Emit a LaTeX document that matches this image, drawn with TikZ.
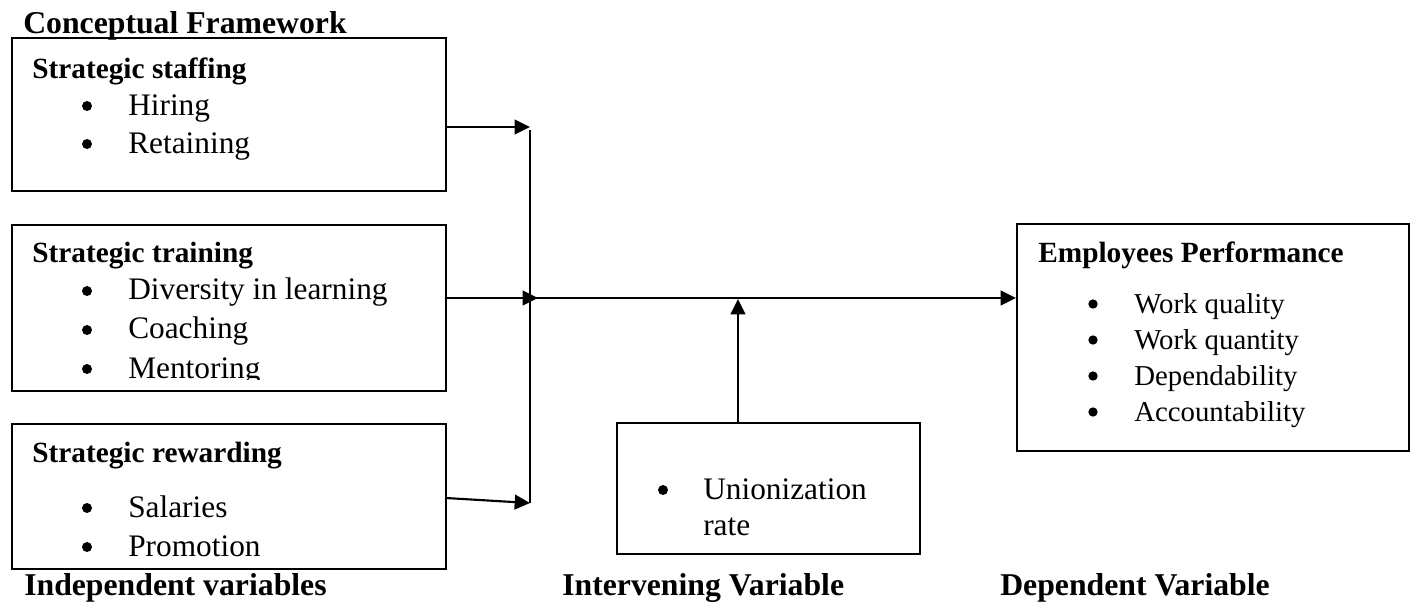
\documentclass[tikz,border=0pt]{standalone}
\usepackage{fontspec}
\setmainfont{Liberation Serif}
\usetikzlibrary{arrows.meta,fit}
\begin{document}
\begin{tikzpicture}[x=0.75pt,y=-0.75pt,
  box/.style={draw, line width=1.5pt, inner sep=0pt},
  head/.style={font=\fontsize{22}{26}\selectfont\bfseries, anchor=base west, inner sep=0pt},
  lbl/.style={font=\fontsize{23.8}{28}\selectfont\bfseries, anchor=base west, inner sep=0pt},
  item/.style={font=\fontsize{23.5}{28}\selectfont, anchor=base west, inner sep=0pt},
  sitem/.style={font=\fontsize{21.6}{26}\selectfont, anchor=base west, inner sep=0pt},
  bul/.style={circle, fill, inner sep=0pt, minimum size=7.5pt},
  sbul/.style={circle, fill, inner sep=0pt, minimum size=7pt},
  conn/.style={line width=1.6pt},
  arr/.style={conn, -{Triangle[length=11.5pt,width=11pt]}}]
\useasboundingbox (0,0) rectangle (1413,601);

% title
\node[lbl] (title) at (23,33) {Conceptual Framework};

% boxes
\node[box, fit={(12,38) (446,191)}] (b1) {};
\node[box, fit={(12,225) (446,391)}] (b2) {};
\node[box, fit={(12,424) (446,569)}] (b3) {};
\node[box, fit={(617,423) (920,554)}] (bu) {};
\node[box, fit={(1017,224) (1409,451)}] (b4) {};

% box 1
\node[head] (h1) at (32,78) {Strategic staffing};
\node[bul] (p11) at (87,106) {};
\node[item] (t11) at (128,115) {Hiring};
\node[bul] (p12) at (87,144) {};
\node[item] (t12) at (128,153) {Retaining};

% box 2
\node[head] (h2) at (32,262) {Strategic training};
\node[bul] (p21) at (87,291) {};
\node[item] (t21) at (128,299) {Diversity in learning};
\node[bul] (p22) at (87,330) {};
\node[item] (t22) at (128,338) {Coaching};
\begin{scope}
  \clip (12,225) rectangle (446,379);
  \node[bul] (p23) at (87,369) {};
  \node[item] (t23) at (128,378) {Mentoring};
\end{scope}

% box 3
\node[head] (h3) at (32,462) {Strategic rewarding};
\node[bul] (p31) at (87,508) {};
\node[item] (t31) at (128,517) {Salaries};
\node[bul] (p32) at (87,547) {};
\node[item] (t32) at (128,556) {Promotion};

% intervening box
\node[bul] (pu) at (663,490) {};
\node[item] (tu1) at (703,499) {Unionization};
\node[item] (tu2) at (703,535) {rate};

% dependent box
\node[head] (h4) at (1038,262) {Employees Performance};
\node[sbul] (p41) at (1093,304) {};
\node[sitem] (t41) at (1134,313) {Work quality};
\node[sbul] (p42) at (1093,340) {};
\node[sitem] (t42) at (1134,349) {Work quantity};
\node[sbul] (p43) at (1093,376) {};
\node[sitem] (t43) at (1134,385) {Dependability};
\node[sbul] (p44) at (1093,412) {};
\node[sitem] (t44) at (1134,421) {Accountability};

% bottom labels
\node[lbl] (l1) at (24,595) {Independent variables};
\node[lbl] (l2) at (562,595) {Intervening Variable};
\node[lbl] (l3) at (1000,595) {Dependent Variable};

% connectors
\coordinate (j1) at (530,127);
\coordinate (vtop) at (530,130);
\coordinate (j2) at (538,298);
\coordinate (m0) at (530,298);
\coordinate (j3) at (530,503);
\coordinate (ju) at (738,299);
\coordinate (s3) at (446,498);

\draw[arr] (b1.east |- j1) -- (j1);
\draw[conn] (vtop) -- (j3);
\draw[arr] (b2.east |- j2) -- (j2);
\draw[arr] (s3) -- (j3);
\draw[arr] (m0) -- (b4.west |- m0);
\draw[arr] (bu.north -| ju) -- (ju);
\end{tikzpicture}
\end{document}
